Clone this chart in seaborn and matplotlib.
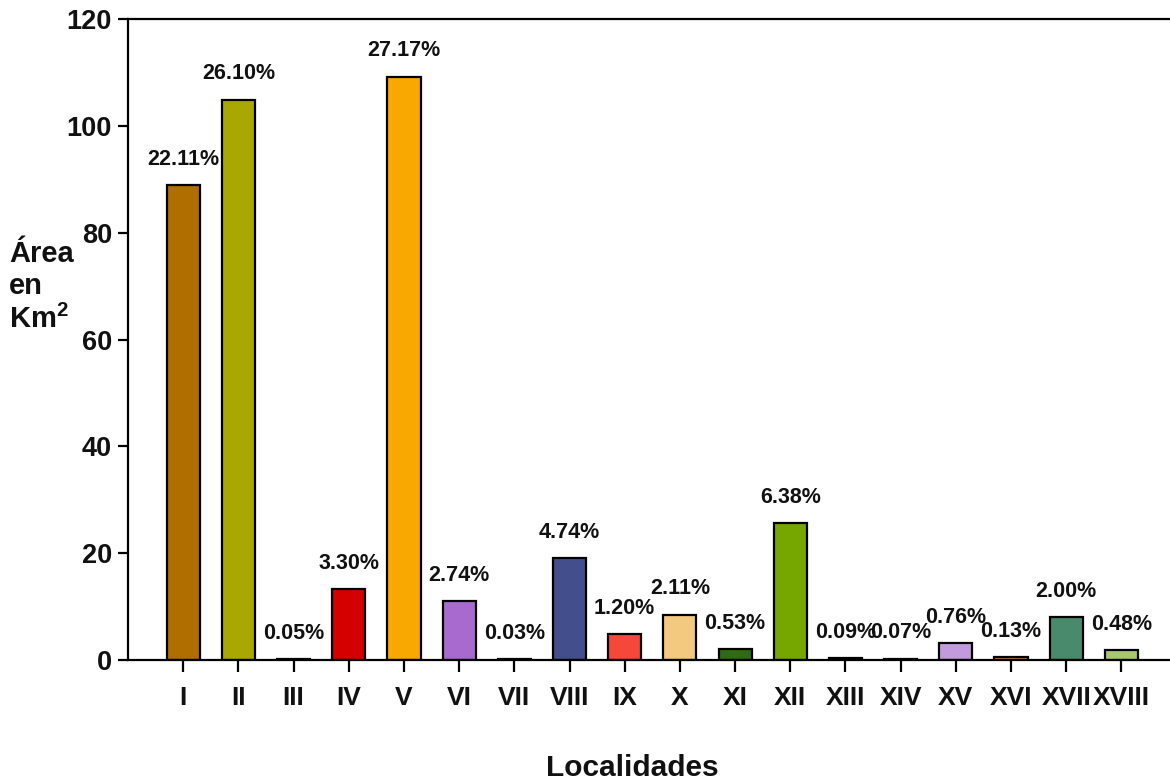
import matplotlib
matplotlib.use("Agg")
import matplotlib.pyplot as plt
import seaborn as sns
import pandas as pd

localidades = ["I", "II", "III", "IV", "V", "VI", "VII", "VIII", "IX", "X",
               "XI", "XII", "XIII", "XIV", "XV", "XVI", "XVII", "XVIII"]
area_km2 = [88.9, 104.9, 0.2, 13.3, 109.2, 11.0, 0.12, 19.1, 4.8, 8.5,
            2.1, 25.6, 0.36, 0.28, 3.1, 0.52, 8.0, 1.9]
porcentajes = ["22.11%", "26.10%", "0.05%", "3.30%", "27.17%", "2.74%", "0.03%",
               "4.74%", "1.20%", "2.11%", "0.53%", "6.38%", "0.09%", "0.07%",
               "0.76%", "0.13%", "2.00%", "0.48%"]
colores = ["#B06E00", "#A8A800", "#505050", "#D40000", "#F8A800", "#A96AD0",
           "#505050", "#434F8C", "#F5483A", "#F2C97E", "#2F6B10", "#76A600",
           "#505050", "#505050", "#C19BDC", "#D2873A", "#4A8A6C", "#A8C86A"]

df = pd.DataFrame({"Localidad": localidades, "Area": area_km2})

sns.set_theme(style="white")
plt.rcParams["font.family"] = ["Liberation Sans", "DejaVu Sans"]
plt.rcParams["font.weight"] = "bold"
plt.rcParams["mathtext.fontset"] = "custom"
plt.rcParams["mathtext.rm"] = "Liberation Sans:bold"
plt.rcParams["mathtext.bf"] = "Liberation Sans:bold"

W, H = 1170, 782
fig = plt.figure(figsize=(W / 100, H / 100), dpi=100)
ax = fig.add_axes([128 / W, 1 - 660 / H, 1 - 128 / W, (660 - 19) / H])

sns.barplot(data=df, x="Localidad", y="Area", hue="Localidad", palette=colores,
            legend=False, width=0.6, edgecolor="black", linewidth=1.6,
            saturation=1, ax=ax)

for i, (v, p) in enumerate(zip(area_km2, porcentajes)):
    ax.annotate(p, (i, v), xytext=(0, 11), textcoords="offset points",
                ha="center", va="bottom", fontsize=15.5, fontweight="bold",
                color="#111111")

ax.set_ylim(0, 120)
ax.set_yticks([0, 20, 40, 60, 80, 100, 120])
ax.set_xlim(-1.0, 17.88)
ax.set_xlabel("")
ax.set_ylabel("")

for s in ["left", "bottom", "top"]:
    ax.spines[s].set_visible(True)
    ax.spines[s].set_color("black")
    ax.spines[s].set_linewidth(1.6)
ax.spines["right"].set_visible(False)

ax.tick_params(axis="y", direction="out", length=7.5, width=1.6, color="black",
               labelsize=19.5, pad=4, left=True)
ax.tick_params(axis="x", direction="out", length=8.5, width=1.6, color="black",
               labelsize=19, pad=10, bottom=True)
for lab in ax.get_xticklabels() + ax.get_yticklabels():
    lab.set_fontweight("bold")
    lab.set_color("#111111")

fig.text(9 / W, 1 - 287 / H, "Área\nen\nKm$^{\\mathbf{2}}$", ha="left", va="center",
         fontsize=21, fontweight="bold", linespacing=1.2, color="#111111")
fig.text(632 / W, 1 - 768 / H, "Localidades", ha="center", va="center",
         fontsize=21.5, fontweight="bold", color="#111111")

fig.savefig("out.png", dpi=100, facecolor="white")
